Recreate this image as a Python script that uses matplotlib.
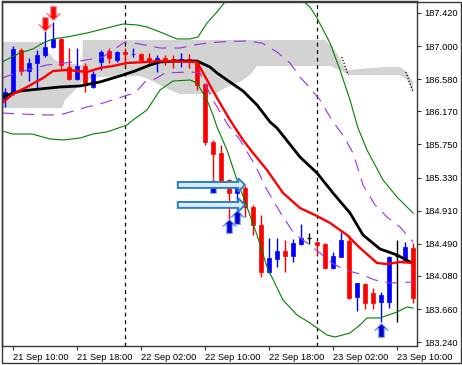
import matplotlib
matplotlib.use("Agg")
import matplotlib.pyplot as plt
import numpy as np
from matplotlib.path import Path
from matplotlib.patches import FancyArrow, Rectangle

# ---- palette (MT4 defaults) ----
BULL = "#0000ff"
BEAR = "#ff0000"
DOJI = "#000000"
BAND = "#008000"
INNER = "#9932e6"
CLOUD = "#d3d3d3"
FRAME = "#3a3a3a"

plt.rcParams.update({"font.family": "Liberation Sans", "font.size": 6.7})

# ---- H1 candles, 21 Sep 09:00 .. 23 Sep 12:00 ----
OPEN = [186.328, 186.404, 186.950, 186.683, 186.785, 186.887, 186.988, 187.090, 186.734, 186.582,
        186.747, 186.480, 186.798, 186.937, 186.823, 186.925, 186.893, 186.899, 186.848, 186.810,
        186.848, 186.836, 186.829, 186.836, 186.798, 186.518, 185.782, 185.642, 185.299, 185.134,
        185.197, 184.956, 184.728, 184.131, 184.296, 184.398, 184.334, 184.486, 184.563, 184.512,
        184.486, 184.181, 184.321, 184.524, 183.813, 183.978, 183.864, 183.750, 183.750, 184.334,
        184.283, 184.436]
HIGH = [186.467, 187.001, 186.975, 186.848, 186.950, 187.191, 187.306, 187.102, 186.975, 186.975,
        186.785, 186.683, 186.950, 186.975, 186.937, 186.975, 186.975, 186.912, 186.912, 186.887,
        186.887, 186.887, 186.912, 186.899, 186.823, 186.531, 185.807, 185.744, 185.312, 185.274,
        185.223, 184.982, 184.855, 184.563, 184.563, 184.537, 184.550, 184.740, 184.626, 184.512,
        184.499, 184.385, 184.639, 184.601, 183.991, 183.991, 183.927, 183.877, 184.334, 184.537,
        184.512, 184.499]
LOW = [186.226, 186.379, 186.632, 186.556, 186.455, 186.861, 186.975, 186.709, 186.569, 186.569,
       186.417, 186.467, 186.696, 186.785, 186.798, 186.760, 186.861, 186.810, 186.785, 186.671,
       186.760, 186.721, 186.734, 186.721, 186.442, 185.744, 185.299, 185.274, 184.791, 184.893,
       184.829, 184.601, 184.067, 184.118, 184.194, 184.131, 184.258, 184.474, 184.486, 184.347,
       184.169, 184.169, 184.321, 183.788, 183.635, 183.661, 183.661, 183.496, 183.673, 183.496,
       184.258, 183.737]
CLOSE = [186.417, 186.963, 186.683, 186.785, 186.887, 186.988, 187.090, 186.760, 186.582, 186.747,
         186.518, 186.645, 186.925, 186.848, 186.925, 186.899, 186.899, 186.823, 186.810, 186.848,
         186.823, 186.829, 186.836, 186.823, 186.506, 185.782, 185.629, 185.286, 185.134, 185.236,
         184.956, 184.728, 184.131, 184.308, 184.398, 184.334, 184.499, 184.563, 184.563, 184.474,
         184.181, 184.334, 184.537, 183.800, 183.991, 183.737, 183.737, 183.839, 184.321, 184.334,
         184.448, 183.800]

# ---- indicator lines, (bar, price) ----
FAST_X = [-0.375, 1, 2.75, 4.75, 6, 7.75, 10.25, 11.875, 13.5, 15.25, 17.75, 19.375, 24, 25.25,
          26.5, 28.125, 29.75, 31, 32.75, 34.75, 36.875, 39, 40.625, 42.75, 44.375, 46.5, 47.75,
          49.375, 50.875]
FAST_Y = [186.277, 186.391, 186.480, 186.594, 186.683, 186.696, 186.671, 186.721, 186.747,
          186.785, 186.798, 186.810, 186.798, 186.569, 186.340, 186.061, 185.807, 185.642,
          185.426, 185.134, 184.943, 184.842, 184.753, 184.601, 184.436, 184.245, 184.232,
          184.258, 184.245]
SLOW_X = [-0.375, 1.875, 4.375, 6.875, 9.375, 11.875, 14.375, 16.25, 18.125, 19.375, 21.5, 24,
          25.625, 26.5, 27.75, 29.75, 31.5, 33.125, 34, 36.875, 39, 41, 43.125, 44.75, 46.875,
          49, 50.875]
SLOW_Y = [186.353, 186.429, 186.455, 186.480, 186.493, 186.544, 186.620, 186.683, 186.760,
          186.798, 186.810, 186.810, 186.734, 186.658, 186.569, 186.429, 186.252, 186.036,
          185.959, 185.591, 185.388, 185.134, 184.880, 184.601, 184.423, 184.347, 184.245]
UP2_X = [-0.375, 0.625, 1.875, 3.5, 4.75, 6, 7.75, 10.25, 12.75, 14.75, 16.5, 17.75, 19.375,
         21.5, 23.125, 24.125, 25.25, 26.5, 27.5, 29.375, 31.875, 34.375, 36.25, 37.125, 38.125,
         39, 40.625, 41.875, 43.125, 44.125, 45.25, 47.25, 49, 51]
UP2_Y = [186.798, 186.848, 186.912, 186.963, 187.039, 187.090, 187.115, 187.166, 187.229,
         187.280, 187.268, 187.242, 187.179, 187.090, 187.090, 187.115, 187.293, 187.433,
         187.560, 187.776, 187.966, 187.966, 187.776, 187.585, 187.496, 187.356, 187.039,
         186.696, 186.315, 185.959, 185.680, 185.299, 185.083, 184.880]
LO2_X = [-0.375, 1, 3.375, 5.625, 7.25, 9.375, 11, 12.75, 15.25, 16, 17.75, 19.375, 21, 23.125,
         24, 25.25, 26, 26.5, 27.75, 29, 30.25, 31.5, 32.75, 34.75, 36.5, 38.125, 40.25, 41.25,
         43.125, 44.375, 45.25, 46.875, 49, 50.25, 51]
LO2_Y = [185.921, 185.883, 185.883, 185.820, 185.807, 185.832, 185.883, 185.909, 185.998,
         186.061, 186.188, 186.442, 186.556, 186.569, 186.531, 186.315, 186.125, 185.972,
         185.680, 185.299, 184.956, 184.601, 184.194, 183.775, 183.585, 183.483, 183.331,
         183.305, 183.356, 183.458, 183.547, 183.547, 183.623, 183.686, 183.673]
UP1_X = [-0.375, 1.875, 5.25, 6.5, 9.375, 12.25, 13.5, 15, 16.875, 19.375, 21.875, 24.375,
         26.875, 30, 32.125, 34, 35.625, 36.875, 38.125, 39.375, 41, 42.25, 43.5, 44.75, 46.25,
         47.75, 49.375, 51]
UP1_Y = [186.594, 186.671, 186.760, 186.772, 186.810, 186.861, 186.950, 187.052, 187.026,
         186.975, 186.975, 187.026, 187.052, 187.064, 187.039, 186.925, 186.785, 186.607,
         186.467, 186.315, 186.036, 185.871, 185.642, 185.236, 184.982, 184.829, 184.702,
         184.512]
LO1_X = [-0.375, 1.875, 5, 6.875, 10.25, 11.875, 15.375, 16.25, 17.5, 18.75, 20, 23.125,
         24.375, 25.25, 26, 26.875, 27.875, 29.375, 31.25, 32.75, 34.375, 36, 36.875, 38.125,
         39.375, 40.875, 42.5, 44.375, 46.25, 48.125, 51]
LO1_Y = [186.150, 186.137, 186.125, 186.125, 186.226, 186.264, 186.379, 186.404, 186.544,
         186.582, 186.658, 186.671, 186.658, 186.467, 186.315, 186.163, 185.998, 185.807,
         185.490, 185.172, 184.893, 184.639, 184.563, 184.474, 184.372, 184.245, 184.156,
         184.105, 184.029, 183.991, 184.004]

# ---- shifted cloud ----
CLOUD_TOP_X = [-0.375, 5, 5.375, 6.25, 7.125, 9.625, 9.75, 40, 41, 41.625, 42.25, 42.875,
               47.25, 49.375, 50.25, 51]
CLOUD_TOP_Y = [187.052, 187.052, 186.925, 186.823, 186.785, 186.760, 187.077, 187.077,
               186.988, 186.887, 186.760, 186.696, 186.734, 186.734, 186.671, 186.544]
CLOUD_BOT_X = [-0.375, 7.125, 7.5, 8.75, 9.75, 11.875, 16.875, 18.125, 19.375, 20.625,
               21.875, 26.25, 27.5, 29.375, 30.625, 31.5, 40.625, 41.875, 42.875, 49.375,
               50.25, 51]
CLOUD_BOT_Y = [186.213, 186.213, 186.315, 186.442, 186.569, 186.607, 186.620, 186.569,
               186.506, 186.442, 186.391, 186.391, 186.467, 186.544, 186.632, 186.747,
               186.747, 186.696, 186.632, 186.632, 186.569, 186.417]
EDGE_DOTS = [([42.1, 42.9], [186.861, 186.632]), ([50.1, 51.0], [186.671, 186.417])]

# ---- signals ----
SELL_X = [5, 6]
SELL_Y = [187.280, 187.420]
BUY_X = [26, 28, 29, 47]
BUY_Y = [185.223, 184.715, 184.829, 183.394]
LEVEL_FROM = [21.6, 21.6]
LEVEL_TO = [30.0, 30.0]
LEVEL_Y = [185.236, 184.982]

TICK_BARS = [1, 9, 17, 25, 33, 41, 49]
TICK_LABELS = ["21 Sep 10:00", "21 Sep 18:00", "22 Sep 02:00", "22 Sep 10:00",
               "22 Sep 18:00", "23 Sep 02:00", "23 Sep 10:00"]
PRICE_TICKS = [187.420, 187.000, 186.580, 186.170, 185.750, 185.330, 184.910, 184.490,
               184.080, 183.660, 183.240]
DAY_BREAKS = [15, 39]

ARROW_UP = Path([(0, 0.5), (0.5, 0.0), (0.2, 0.14), (0.2, -0.5), (-0.2, -0.5),
                 (-0.2, 0.14), (-0.5, 0.0), (0, 0.5)], closed=True)
ARROW_DOWN = Path([(x, -y) for x, y in ARROW_UP.vertices], closed=True)


def draw_candles(ax):
    o, h, l, c = map(np.asarray, (OPEN, HIGH, LOW, CLOSE))
    x = np.arange(len(o))
    colors = np.where(c > o, BULL, np.where(c < o, BEAR, DOJI))
    ax.vlines(x, l, h, colors=colors, lw=1, zorder=2)
    body = c != o
    ax.bar(x[body], (c - o)[body], bottom=o[body], width=0.6, color=colors[body],
           edgecolor=colors[body], linewidth=0.5, zorder=2)
    ax.hlines(o[~body], x[~body] - 0.3, x[~body] + 0.3, colors=DOJI, lw=1, zorder=2)


def main():
    fig = plt.figure(figsize=(4.62, 3.65), dpi=100)
    ax = fig.add_axes([2 / 462, 19 / 365, 415 / 462, 345 / 365])

    ax.fill(np.r_[CLOUD_TOP_X, CLOUD_BOT_X[::-1]], np.r_[CLOUD_TOP_Y, CLOUD_BOT_Y[::-1]],
            color=CLOUD, lw=0, zorder=1)
    for xs, ys in EDGE_DOTS:
        ax.plot(xs, ys, color="k", ls=(0, (1, 1.5)), lw=0.9, zorder=1.5)
    for b in DAY_BREAKS:
        ax.axvline(b, color="k", lw=0.9, ls=(0, (3, 3)), zorder=1.5)

    draw_candles(ax)

    ax.plot(UP2_X, UP2_Y, color=BAND, lw=0.8, zorder=3)
    ax.plot(LO2_X, LO2_Y, color=BAND, lw=0.8, zorder=3)
    ax.plot(UP1_X, UP1_Y, color=INNER, lw=0.8, ls=(0, (11, 7)), zorder=3)
    ax.plot(LO1_X, LO1_Y, color=INNER, lw=0.8, ls=(0, (11, 7)), zorder=3)
    ax.plot(SLOW_X, SLOW_Y, color="k", lw=2.0, zorder=4, solid_capstyle="butt")
    ax.plot(FAST_X, FAST_Y, color=BEAR, lw=1.7, zorder=4, solid_capstyle="butt")

    ax.plot(SELL_X, SELL_Y, ls="none", marker=ARROW_DOWN, ms=10, color=BEAR,
            markeredgecolor="#ff8c8c", markeredgewidth=0.8, zorder=5)
    ax.plot(BUY_X, BUY_Y, ls="none", marker=ARROW_UP, ms=10, color="#0000c8",
            markeredgecolor="#7fa6ff", markeredgewidth=0.8, zorder=5)
    for x0, x1, y in zip(LEVEL_FROM, LEVEL_TO, LEVEL_Y):
        ax.add_patch(FancyArrow(x0, y, x1 - x0, 0, width=0.075, head_width=0.17,
                                head_length=0.85, length_includes_head=True,
                                facecolor="#d9ecfb", edgecolor="#2f7fc4", lw=1.4, zorder=6))

    ax.set_xlim(-0.375, 51.5)
    ax.set_ylim(183.191, 187.572)
    ax.yaxis.tick_right()
    ax.set_yticks(PRICE_TICKS)
    ax.set_yticklabels([f"{p:.3f}" for p in PRICE_TICKS])
    ax.set_xticks(TICK_BARS)
    ax.set_xticklabels(TICK_LABELS, ha="left")
    ax.tick_params(axis="y", direction="out", length=3, width=0.8, pad=2, colors=FRAME,
                   labelcolor="k")
    ax.tick_params(axis="x", direction="out", length=3, width=0.8, pad=2, colors=FRAME,
                   labelcolor="k")
    for s in ax.spines.values():
        s.set_color(FRAME)
        s.set_linewidth(1)

    fig.patches.append(Rectangle((1.5 / 462, 2 / 365), 459.5 / 462, 361.5 / 365,
                                 transform=fig.transFigure, fill=False,
                                 edgecolor=FRAME, lw=1))
    fig.savefig("out.png", dpi=100)
    plt.close(fig)


if __name__ == "__main__":
    main()
